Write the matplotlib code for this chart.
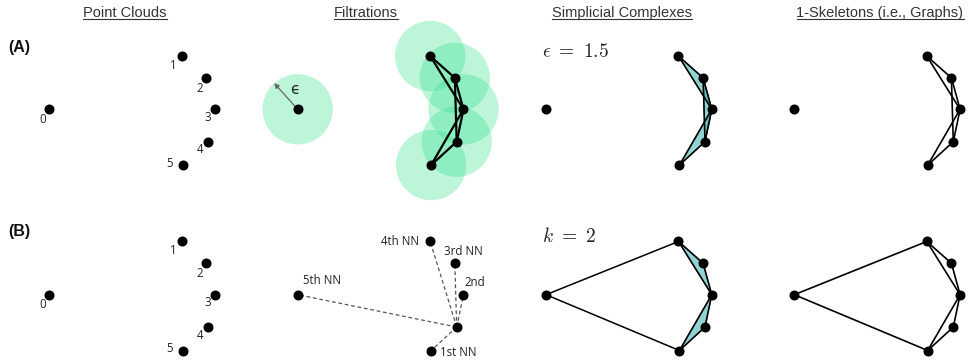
import matplotlib
matplotlib.use('Agg')
import matplotlib.pyplot as plt
from matplotlib.patches import Circle, Polygon
from matplotlib.lines import Line2D
import numpy as np

# ---------------- data ----------------
point_ids = ['0', '1', '2', '3', '4', '5']
pts_x = [0.00, 5.65, 6.70, 7.07, 6.78, 5.69]
pts_y = [0.00, 2.27, 1.34, 0.00, -1.38, -2.38]
epsilon = 1.5
k_nn = 2
vr_edges = [(1, 2), (1, 3), (2, 3), (2, 4), (3, 4), (3, 5), (4, 5)]
vr_triangles = [(1, 2, 3), (2, 3, 4), (3, 4, 5)]
knn_edges = [(0, 1), (0, 5), (1, 2), (1, 3), (2, 3), (3, 4), (3, 5), (4, 5)]
knn_triangles = [(1, 2, 3), (3, 4, 5)]
nn_query = 4
nn_order = [5, 3, 2, 1, 0]
nn_labels = ['1st NN', '2nd', '3rd NN', '4th NN', '5th NN']
col_titles = ['Point Clouds', 'Filtrations', 'Simplicial Complexes',
              '1-Skeletons (i.e., Graphs)']
row_labels = ['(A)', '(B)']

# ---------------- layout ----------------
W, H = 969, 362
S = 23.45                      # pixels per data unit
X0, Y0 = 49.3, 109.3           # pixel position of point 0 in first panel
col_px = [0, 248.4, 496.7, 745.0]
row_px = [0, 185.4]
title_cx = [125, 366, 622, 880]

plt.rcParams['mathtext.fontset'] = 'cm'
fig = plt.figure(figsize=(W / 100, H / 100), dpi=100)
ax = fig.add_axes([0, 0, 1, 1])
ax.set_xlim(-X0 / S, (W - X0) / S)
ax.set_ylim(-(H - Y0) / S, Y0 / S)
ax.axis('off')

X = np.array(pts_x)
Y = np.array(pts_y)


def pos(col, row):
    return X + col_px[col] / S, Y - row_px[row] / S


def draw_points(col, row, idx=None, ms=6.2):
    px, py = pos(col, row)
    if idx is None:
        idx = range(len(px))
    idx = list(idx)
    ax.plot(px[idx], py[idx], 'o', color='black', ms=ms, zorder=10,
            linestyle='none')


def draw_edges(col, row, edges, lw=1.2, **kw):
    px, py = pos(col, row)
    for a, b in edges:
        ax.plot([px[a], px[b]], [py[a], py[b]], color='black', lw=lw,
                zorder=5, solid_capstyle='round', **kw)


def draw_tris(col, row, tris):
    px, py = pos(col, row)
    for t in tris:
        ax.add_patch(Polygon(np.c_[px[list(t)], py[list(t)]], closed=True,
                             fc='#48b5b5', alpha=0.6, ec='black', lw=1.0,
                             zorder=3))


label_offsets = [(-6.6, -10), (-9, -9), (-7, -10.3), (-7.3, -8),
                 (-8.3, -8.3), (-12.7, 1.7)]

# Column 0: point clouds
for row in range(2):
    draw_points(0, row)
    px, py = pos(0, row)
    for i, lab in enumerate(point_ids):
        dx, dy = label_offsets[i]
        ax.annotate(lab, (px[i], py[i]), xytext=(dx * 0.72, dy * 0.72),
                    textcoords='offset points', ha='center', va='center',
                    fontsize=8.3, family='Open Sans', color='#222222')

# Column 1 row A: filtration with balls
green = '#26de84'
px, py = pos(1, 0)
for i in range(len(px)):
    ax.add_patch(Circle((px[i], py[i]), epsilon, fc=green, alpha=0.3,
                        ec='none', zorder=1))
draw_edges(1, 0, vr_edges, lw=1.6)
draw_points(1, 0)
ang = np.deg2rad(132)
ax.annotate('', xy=(px[0] + epsilon * np.cos(ang), py[0] + epsilon * np.sin(ang)),
            xytext=(px[0], py[0]),
            arrowprops=dict(arrowstyle='-|>', color='#666666', lw=0.9,
                            mutation_scale=7, shrinkA=0, shrinkB=0), zorder=6)
ax.annotate('ϵ', (px[0], py[0]), xytext=(-2.7 * 0.72, 19.3 * 0.72),
            textcoords='offset points', ha='center', va='center',
            fontsize=11, family='DejaVu Sans', color='#222222')

# Column 1 row B: nearest neighbours
px, py = pos(1, 1)
for j in nn_order:
    ax.plot([px[nn_query], px[j]], [py[nn_query], py[j]], color='#555555',
            lw=0.9, linestyle=(0, (3, 2.2)), zorder=4)
draw_points(1, 1)
nn_offsets = [(27.3, -1.7), (11, 12.4), (8.6, 11.3), (-30, 0.3), (24, 14.7)]
for j, lab, (dx, dy) in zip(nn_order, nn_labels, nn_offsets):
    ax.annotate(lab, (px[j], py[j]), xytext=(dx * 0.72, dy * 0.72),
                textcoords='offset points', ha='center', va='center',
                fontsize=8.3, family='Open Sans', color='#222222')

# Column 2: simplicial complexes
draw_tris(2, 0, vr_triangles)
draw_edges(2, 0, vr_edges, lw=1.1)
draw_points(2, 0)
draw_tris(2, 1, knn_triangles)
draw_edges(2, 1, knn_edges, lw=1.1)
draw_points(2, 1)
for row, txt in enumerate([r'$\epsilon\ =\ %g$' % epsilon, r'$k\ =\ %d$' % k_nn]):
    px, py = pos(2, row)
    ax.annotate(txt, (px[0], py[0]), xytext=(-4 * 0.72, 57.8 * 0.72),
                textcoords='offset points', ha='left', va='center',
                fontsize=14, color='#222222')

# Column 3: 1-skeletons
draw_edges(3, 0, vr_edges, lw=1.2)
draw_points(3, 0)
draw_edges(3, 1, knn_edges, lw=1.2)
draw_points(3, 1)

# Titles with underline
fig.canvas.draw()
r = fig.canvas.get_renderer()
for cx, t in zip(title_cx, col_titles):
    tt = fig.text(cx / W, 1 - 17.3 / H, t, ha='center', va='baseline',
                  fontsize=10.5, family='Liberation Sans', color='#333333')
    bb = tt.get_window_extent(r)
    yl = 1 - 19.0 / H
    fig.add_artist(Line2D([bb.x0 / W, bb.x1 / W], [yl, yl],
                          transform=fig.transFigure, color='#333333', lw=0.8))

for lab, yy in zip(row_labels, [47.5, 231.5]):
    fig.text(8 / W, 1 - yy / H, lab, ha='left', va='center', fontsize=11.5,
             fontweight='bold', family='Liberation Sans', color='#111111')

fig.savefig('out.png', dpi=100)
